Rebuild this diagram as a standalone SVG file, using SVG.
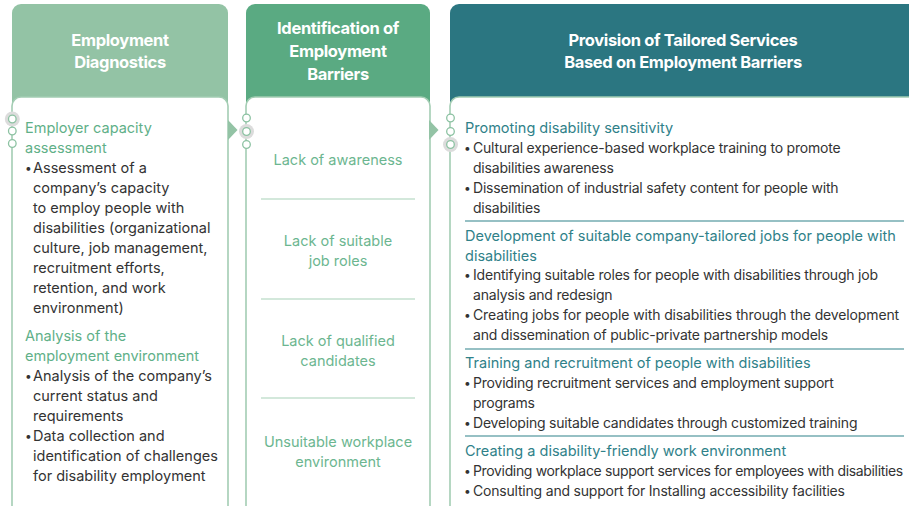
<svg xmlns="http://www.w3.org/2000/svg" width="909" height="506" viewBox="0 0 909 506">
<defs>
<style>
.hd{font-family:Inter,Roboto,"Liberation Sans",sans-serif;font-weight:700;font-size:16.5px;fill:#fff;text-anchor:middle;letter-spacing:-0.35px}
.t{font-family:Inter,Roboto,"Liberation Sans",sans-serif;font-size:14.5px;fill:#333}
.t3{font-family:Inter,Roboto,"Liberation Sans",sans-serif;font-size:14px;fill:#333;letter-spacing:-0.2px}
.b{font-family:Inter,Roboto,"Liberation Sans",sans-serif;font-size:12px;fill:#333}
.g{font-family:Inter,Roboto,"Liberation Sans",sans-serif;font-size:14.5px;fill:#5fb088}
.gc{font-family:Inter,Roboto,"Liberation Sans",sans-serif;font-size:14.5px;fill:#6cb690;text-anchor:middle}
.tl{font-family:Inter,Roboto,"Liberation Sans",sans-serif;font-size:14.5px;fill:#2f8189}
.panel{fill:#fff;stroke:#a3cdb3;stroke-width:1.6}
.dot{fill:#fff;stroke:#8cc2a2;stroke-width:1.3}
.halo{fill:#dcdcdc}
.arr{fill:#93c3a5}
.sepg{stroke:#a8d2b8;stroke-width:1.2}
.sept{stroke:#2f8189;stroke-width:1.2}
</style>
</defs>
<rect width="909" height="506" fill="#fff"/>

<g id="col1">
<path d="M12,114 V13 a9,9 0 0 1 9,-9 H219 a9,9 0 0 1 9,9 V114 Z" fill="#93c3a5"/>
<rect class="panel" x="12" y="97" width="216" height="420" rx="9"/>
<text class="hd" x="120" y="46">Employment</text>
<text class="hd" x="120" y="68">Diagnostics</text>
<text class="g" x="25" y="133">Employer capacity</text>
<text class="g" x="25" y="153">assessment</text>
<text class="b" x="25" y="172">•</text><text class="t" x="33" y="173">Assessment of a</text>
<text class="t" x="33" y="193">company’s capacity</text>
<text class="t" x="33" y="213">to employ people with</text>
<text class="t" x="33" y="233">disabilities (organizational</text>
<text class="t" x="33" y="253">culture, job management,</text>
<text class="t" x="33" y="273">recruitment efforts,</text>
<text class="t" x="33" y="293">retention, and work</text>
<text class="t" x="33" y="313">environment)</text>
<text class="g" x="25" y="341">Analysis of the</text>
<text class="g" x="25" y="361">employment environment</text>
<text class="b" x="25" y="380">•</text><text class="t" x="33" y="381">Analysis of the company’s</text>
<text class="t" x="33" y="401">current status and</text>
<text class="t" x="33" y="421">requirements</text>
<text class="b" x="25" y="440">•</text><text class="t" x="33" y="441">Data collection and</text>
<text class="t" x="33" y="461">identification of challenges</text>
<text class="t" x="33" y="481">for disability employment</text>
</g>

<g id="col2">
<path d="M246,114 V13 a9,9 0 0 1 9,-9 H421 a9,9 0 0 1 9,9 V114 Z" fill="#5aaa82"/>
<rect class="panel" x="246" y="97" width="184" height="420" rx="9"/>
<text class="hd" x="338" y="34">Identification of</text>
<text class="hd" x="338" y="57">Employment</text>
<text class="hd" x="338" y="80">Barriers</text>
<text class="gc" x="338" y="165">Lack of awareness</text>
<line class="sepg" x1="261" y1="199" x2="415" y2="199"/>
<text class="gc" x="338" y="246">Lack of suitable</text>
<text class="gc" x="338" y="266">job roles</text>
<line class="sepg" x1="261" y1="299" x2="415" y2="299"/>
<text class="gc" x="338" y="346">Lack of qualified</text>
<text class="gc" x="338" y="366">candidates</text>
<line class="sepg" x1="261" y1="398" x2="415" y2="398"/>
<text class="gc" x="338" y="447">Unsuitable workplace</text>
<text class="gc" x="338" y="467">environment</text>
</g>

<g id="col3">
<path d="M450,114 V13 a9,9 0 0 1 9,-9 H920 V114 Z" fill="#2b7681"/>
<rect class="panel" x="450" y="97" width="480" height="420" rx="9"/>
<text class="hd" x="683" y="46">Provision of Tailored Services</text>
<text class="hd" x="683" y="68">Based on Employment Barriers</text>
<text class="tl" x="465" y="133">Promoting disability sensitivity</text>
<text class="b" x="464" y="152">•</text><text class="t3" x="473" y="153">Cultural experience-based workplace training to promote</text>
<text class="t3" x="473" y="173">disabilities awareness</text>
<text class="b" x="464" y="192">•</text><text class="t3" x="473" y="193">Dissemination of industrial safety content for people with</text>
<text class="t3" x="473" y="213">disabilities</text>
<line class="sept" x1="465" y1="221" x2="904" y2="221"/>
<text class="tl" x="465" y="241">Development of suitable company-tailored jobs for people with</text>
<text class="tl" x="465" y="261">disabilities</text>
<text class="b" x="464" y="279">•</text><text class="t3" x="473" y="280">Identifying suitable roles for people with disabilities through job</text>
<text class="t3" x="473" y="300">analysis and redesign</text>
<text class="b" x="464" y="319">•</text><text class="t3" x="473" y="320" textLength="426" lengthAdjust="spacing">Creating jobs for people with disabilities through the development</text>
<text class="t3" x="473" y="340">and dissemination of public-private partnership models</text>
<line class="sept" x1="465" y1="349" x2="904" y2="349"/>
<text class="tl" x="465" y="368">Training and recruitment of people with disabilities</text>
<text class="b" x="464" y="387">•</text><text class="t3" x="473" y="388">Providing recruitment services and employment support</text>
<text class="t3" x="473" y="408">programs</text>
<text class="b" x="464" y="427">•</text><text class="t3" x="473" y="428">Developing suitable candidates through customized training</text>
<line class="sept" x1="465" y1="436" x2="904" y2="436"/>
<text class="tl" x="465" y="456">Creating a disability-friendly work environment</text>
<text class="b" x="464" y="475">•</text><text class="t3" x="473" y="476" textLength="430" lengthAdjust="spacing">Providing workplace support services for employees with disabilities</text>
<text class="b" x="464" y="495">•</text><text class="t3" x="473" y="496">Consulting and support for Installing accessibility facilities</text>
</g>

<g id="connectors">
<polygon class="arr" points="228,120 237.5,130 228,140"/>
<polygon class="arr" points="429,120 438.5,130 429,140"/>
<circle class="halo" cx="12.3" cy="119" r="7.5"/>
<circle class="dot" cx="12.3" cy="119" r="3.8"/>
<circle class="dot" cx="12.3" cy="131" r="3.8"/>
<circle class="dot" cx="12.3" cy="143.5" r="3.8"/>
<circle class="halo" cx="246.5" cy="131.5" r="7.5"/>
<circle class="dot" cx="246.5" cy="118" r="3.8"/>
<circle class="dot" cx="246.5" cy="131.5" r="3.8"/>
<circle class="dot" cx="246.5" cy="144.5" r="3.8"/>
<circle class="halo" cx="450.5" cy="144.5" r="7.5"/>
<circle class="dot" cx="450.5" cy="118" r="3.8"/>
<circle class="dot" cx="450.5" cy="131.5" r="3.8"/>
<circle class="dot" cx="450.5" cy="144.5" r="3.8"/>
</g>
</svg>
